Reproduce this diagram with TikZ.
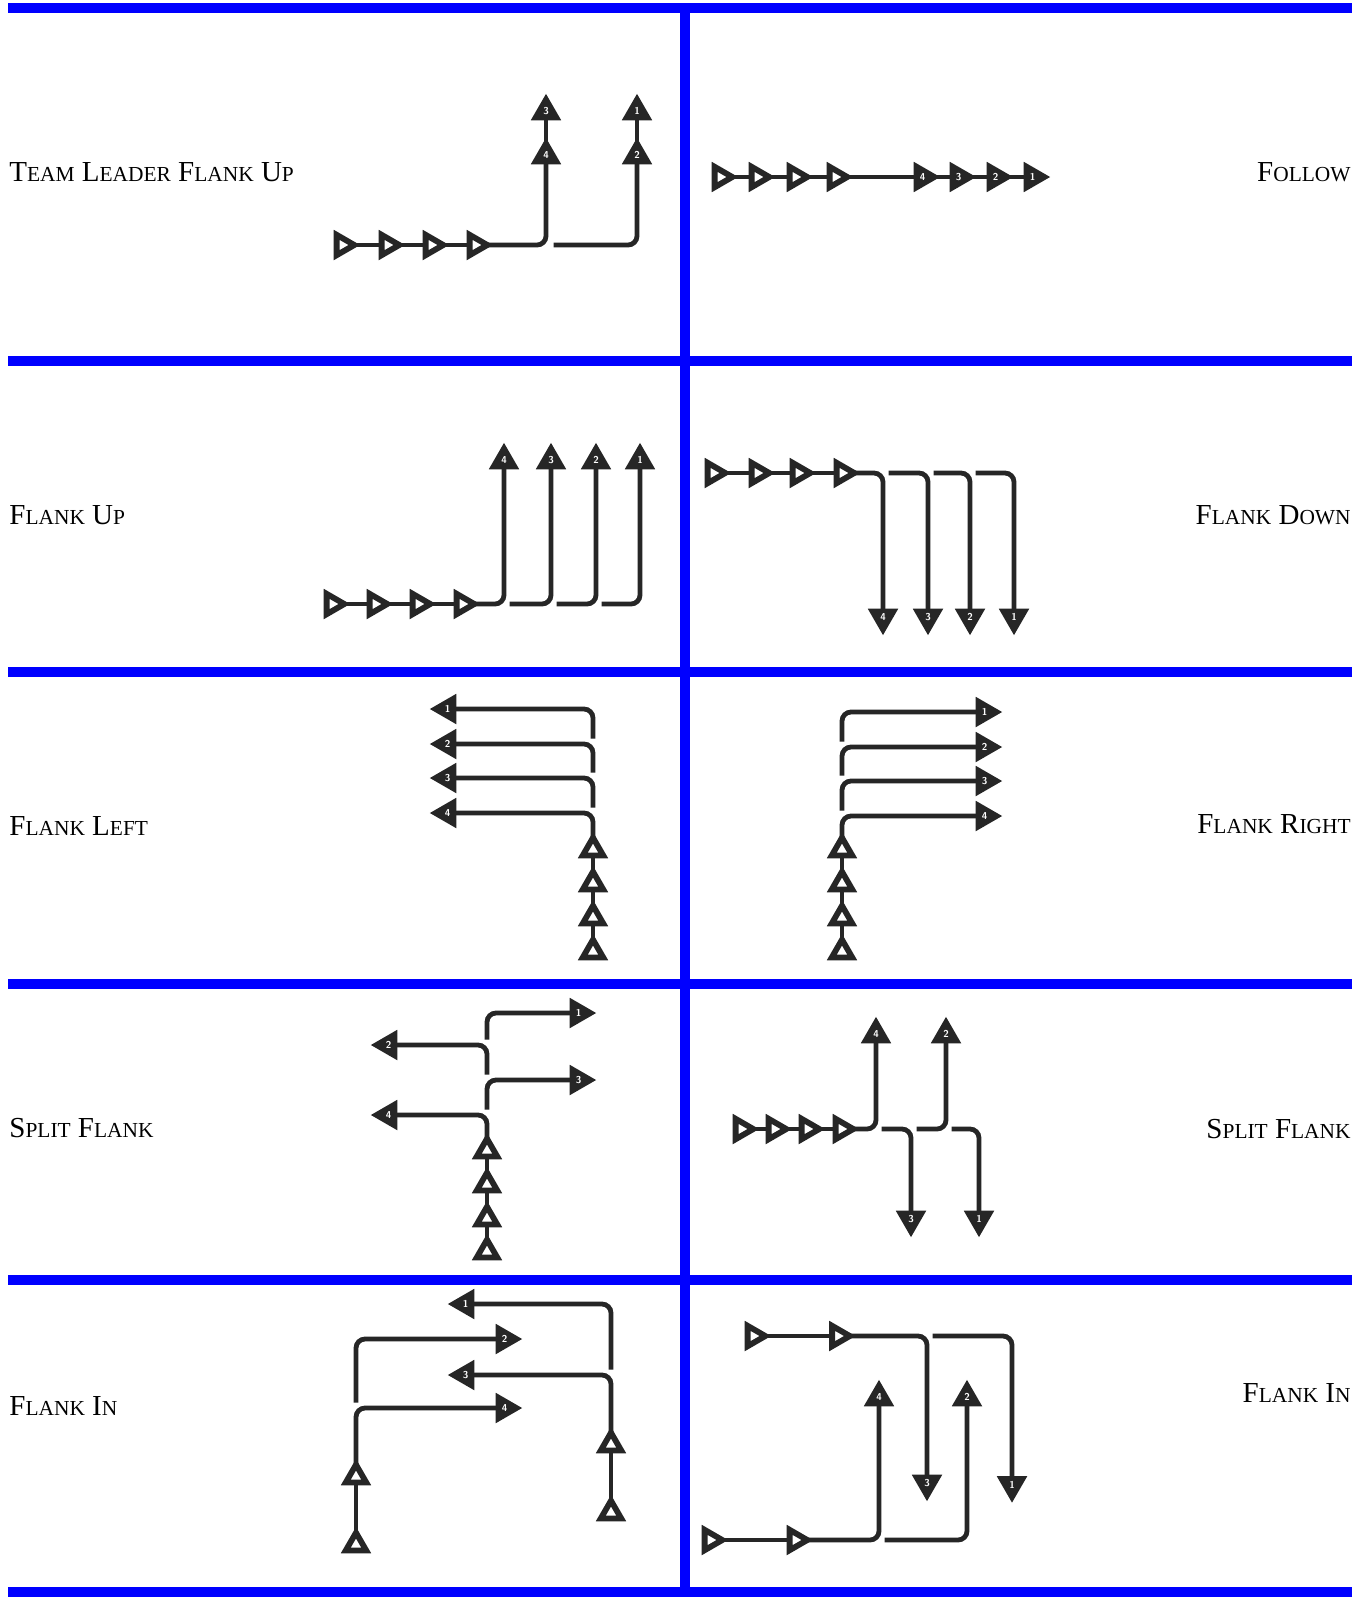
\documentclass[tikz,border=0pt]{standalone}
\usepackage{fontspec}
\setmainfont{Liberation Serif}
\usetikzlibrary{shapes.geometric}
\definecolor{ink}{HTML}{262626}
\definecolor{barblue}{RGB}{0,0,255}
\newcommand\capsz{\fontsize{14.5}{16}\selectfont}
\newcommand\smsz{\fontsize{10.7}{12}\selectfont}
\newcommand\SC[2]{{\capsz #1}{\smsz #2}}
\newcommand\dig[1]{\makebox[0pt]{\raisebox{-1.7pt}[0pt][0pt]{#1}}}
\begin{document}
\begin{tikzpicture}[x=0.5pt,y=-0.5pt,
  tri/.style={regular polygon, regular polygon sides=3, minimum size=11.8pt, inner sep=0pt, outer sep=0pt, draw=ink, line width=2.9pt, fill=white},
  num/.style={tri, fill=ink, text=white, font=\fontsize{5}{5}\selectfont\sffamily\bfseries},
  up/.style={shape border rotate=0},
  dn/.style={shape border rotate=180},
  rt/.style={shape border rotate=-90},
  lf/.style={shape border rotate=90},
  link/.style={draw=ink, line width=2.4pt},
  curvy/.style={link, rounded corners=4.5pt},
  bar/.style={fill=barblue},
  lab/.style={inner sep=0pt, text=black, font=\capsz}
]
\useasboundingbox (0,0) rectangle (1362,1597);
\fill[white] (0,0) rectangle (1362,1597);
% blue grid
\fill[bar] (8,3) rectangle (1352,13);
\fill[bar] (8,356) rectangle (1352,366);
\fill[bar] (8,667) rectangle (1352,677);
\fill[bar] (8,979) rectangle (1352,989);
\fill[bar] (8,1275) rectangle (1352,1285);
\fill[bar] (8,1587) rectangle (1352,1597);
\fill[bar] (680,3) rectangle (690,1597);
% labels
\node[lab, anchor=base west] (l1) at (9,181) {\SC{T}{EAM} \SC{L}{EADER} \SC{F}{LANK} \SC{U}{P}};
\node[lab, anchor=base east] (l2) at (1351,181) {\SC{F}{OLLOW}};
\node[lab, anchor=base west] (l3) at (9,524) {\SC{F}{LANK} \SC{U}{P}};
\node[lab, anchor=base east] (l4) at (1351,524) {\SC{F}{LANK} \SC{D}{OWN}};
\node[lab, anchor=base west] (l5) at (9,835) {\SC{F}{LANK} \SC{L}{EFT}};
\node[lab, anchor=base east] (l6) at (1351,833) {\SC{F}{LANK} \SC{R}{IGHT}};
\node[lab, anchor=base west] (l7) at (9,1137) {\SC{S}{PLIT} \SC{F}{LANK}};
\node[lab, anchor=base east] (l8) at (1351,1138) {\SC{S}{PLIT} \SC{F}{LANK}};
\node[lab, anchor=base west] (l9) at (9,1415) {\SC{F}{LANK} \SC{I}{N}};
\node[lab, anchor=base east] (l10) at (1351,1402) {\SC{F}{LANK} \SC{I}{N}};
% panel 1: team leader flank up
\node[tri,rt] (a1) at (342.5,245) {};
\node[tri,rt] (a2) at (387.5,245) {};
\node[tri,rt] (a3) at (431.5,245) {};
\node[tri,rt] (a4) at (475.5,245) {};
\node[num,up] (a5) at (546,155.5) {\dig{4}};
\node[num,up] (a6) at (546,111.5) {\dig{3}};
\node[num,up] (a7) at (637,155.5) {\dig{2}};
\node[num,up] (a8) at (637,111.5) {\dig{1}};
\coordinate (as) at (553.5,245);
\draw[link] (a1)--(a2) (a2)--(a3) (a3)--(a4) (a5)--(a6) (a7)--(a8);
\draw[curvy] (a4) -| (a5);
\draw[curvy] (as) -| (a7);
% panel 2: follow
\node[tri,rt] (b1) at (720.5,177) {};
\node[tri,rt] (b2) at (757.5,177) {};
\node[tri,rt] (b3) at (795.5,177) {};
\node[tri,rt] (b4) at (835.5,177) {};
\node[num,rt] (b5) at (922.5,177) {\dig{4}};
\node[num,rt] (b6) at (958.5,177) {\dig{3}};
\node[num,rt] (b7) at (995.5,177) {\dig{2}};
\node[num,rt] (b8) at (1032.5,177) {\dig{1}};
\draw[link] (b1)--(b2) (b2)--(b3) (b3)--(b4) (b4)--(b5) (b5)--(b6) (b6)--(b7) (b7)--(b8);
% panel 3: flank up
\node[tri,rt] (c1) at (332.5,604) {};
\node[tri,rt] (c2) at (375.5,604) {};
\node[tri,rt] (c3) at (418.5,604) {};
\node[tri,rt] (c4) at (462.5,604) {};
\node[num,up] (c5) at (504,460.5) {\dig{4}};
\node[num,up] (c6) at (551,460.5) {\dig{3}};
\node[num,up] (c7) at (596,460.5) {\dig{2}};
\node[num,up] (c8) at (640,460.5) {\dig{1}};
\coordinate (cs1) at (509.5,604);
\coordinate (cs2) at (556.5,604);
\coordinate (cs3) at (601.5,604);
\draw[link] (c1)--(c2) (c2)--(c3) (c3)--(c4);
\draw[curvy] (c4) -| (c5);
\draw[curvy] (cs1) -| (c6);
\draw[curvy] (cs2) -| (c7);
\draw[curvy] (cs3) -| (c8);
% panel 4: flank down
\node[tri,rt] (d1) at (713.5,473) {};
\node[tri,rt] (d2) at (757.5,473) {};
\node[tri,rt] (d3) at (798.5,473) {};
\node[tri,rt] (d4) at (842.5,473) {};
\node[num,dn] (d5) at (883,617.5) {\dig{4}};
\node[num,dn] (d6) at (928,617.5) {\dig{3}};
\node[num,dn] (d7) at (970,617.5) {\dig{2}};
\node[num,dn] (d8) at (1014,617.5) {\dig{1}};
\coordinate (ds1) at (888.5,473);
\coordinate (ds2) at (933.5,473);
\coordinate (ds3) at (975.5,473);
\draw[link] (d1)--(d2) (d2)--(d3) (d3)--(d4);
\draw[curvy] (d4) -| (d5);
\draw[curvy] (ds1) -| (d6);
\draw[curvy] (ds2) -| (d7);
\draw[curvy] (ds3) -| (d8);
% panel 5: flank left
\node[tri,up] (e1) at (593,951.5) {};
\node[tri,up] (e2) at (593,917.5) {};
\node[tri,up] (e3) at (593,883.5) {};
\node[tri,up] (e4) at (593,849.5) {};
\node[num,lf] (e5) at (447.5,813) {\dig{4}};
\node[num,lf] (e6) at (447.5,778) {\dig{3}};
\node[num,lf] (e7) at (447.5,744) {\dig{2}};
\node[num,lf] (e8) at (447.5,709) {\dig{1}};
\coordinate (es1) at (593,807.5);
\coordinate (es2) at (593,772.5);
\coordinate (es3) at (593,738.5);
\draw[link] (e1)--(e2) (e2)--(e3) (e3)--(e4);
\draw[curvy] (e4) |- (e5);
\draw[curvy] (es1) |- (e6);
\draw[curvy] (es2) |- (e7);
\draw[curvy] (es3) |- (e8);
% panel 6: flank right
\node[tri,up] (f1) at (842,951.5) {};
\node[tri,up] (f2) at (842,917.5) {};
\node[tri,up] (f3) at (842,883.5) {};
\node[tri,up] (f4) at (842,849.5) {};
\node[num,rt] (f5) at (984.5,816) {\dig{4}};
\node[num,rt] (f6) at (984.5,781) {\dig{3}};
\node[num,rt] (f7) at (984.5,747) {\dig{2}};
\node[num,rt] (f8) at (984.5,712) {\dig{1}};
\coordinate (fs1) at (842,810.5);
\coordinate (fs2) at (842,775.5);
\coordinate (fs3) at (842,741.5);
\draw[link] (f1)--(f2) (f2)--(f3) (f3)--(f4);
\draw[curvy] (f4) |- (f5);
\draw[curvy] (fs1) |- (f6);
\draw[curvy] (fs2) |- (f7);
\draw[curvy] (fs3) |- (f8);
% panel 7: split flank (left)
\node[tri,up] (g1) at (487,1251.5) {};
\node[tri,up] (g2) at (487,1218.5) {};
\node[tri,up] (g3) at (487,1184.5) {};
\node[tri,up] (g4) at (487,1150.5) {};
\node[num,lf] (g5) at (388.5,1115) {\dig{4}};
\node[num,rt] (g6) at (578.5,1080) {\dig{3}};
\node[num,lf] (g7) at (388.5,1045) {\dig{2}};
\node[num,rt] (g8) at (578.5,1013) {\dig{1}};
\coordinate (gs1) at (487,1109.5);
\coordinate (gs2) at (487,1074.5);
\coordinate (gs3) at (487,1039.5);
\draw[link] (g1)--(g2) (g2)--(g3) (g3)--(g4);
\draw[curvy] (g4) |- (g5);
\draw[curvy] (gs1) |- (g6);
\draw[curvy] (gs2) |- (g7);
\draw[curvy] (gs3) |- (g8);
% panel 8: split flank (right)
\node[tri,rt] (h1) at (741.5,1129) {};
\node[tri,rt] (h2) at (774.5,1129) {};
\node[tri,rt] (h3) at (807.5,1129) {};
\node[tri,rt] (h4) at (841.5,1129) {};
\node[num,up] (h5) at (876,1034.5) {\dig{4}};
\node[num,dn] (h6) at (911,1219.5) {\dig{3}};
\node[num,up] (h7) at (946,1034.5) {\dig{2}};
\node[num,dn] (h8) at (979,1219.5) {\dig{1}};
\coordinate (hs1) at (881.5,1129);
\coordinate (hs2) at (916.5,1129);
\coordinate (hs3) at (951.5,1129);
\draw[link] (h1)--(h2) (h2)--(h3) (h3)--(h4);
\draw[curvy] (h4) -| (h5);
\draw[curvy] (hs1) -| (h6);
\draw[curvy] (hs2) -| (h7);
\draw[curvy] (hs3) -| (h8);
% panel 9: flank in (left)
\node[tri,up] (i1) at (356,1544.5) {};
\node[tri,up] (i2) at (356,1476.5) {};
\node[tri,up] (i3) at (611,1512.5) {};
\node[tri,up] (i4) at (611,1444.5) {};
\node[num,rt] (i5) at (504.5,1408) {\dig{4}};
\node[num,lf] (i6) at (465.5,1375) {\dig{3}};
\node[num,rt] (i7) at (504.5,1339) {\dig{2}};
\node[num,lf] (i8) at (465.5,1304) {\dig{1}};
\coordinate (is1) at (356,1402.5);
\coordinate (is2) at (611,1369.5);
\draw[link] (i1)--(i2) (i3)--(i4);
\draw[curvy] (i2) |- (i5);
\draw[curvy] (is1) |- (i7);
\draw[curvy] (i4) |- (i6);
\draw[curvy] (is2) |- (i8);
% panel 10: flank in (right)
\node[tri,rt] (j1) at (753.5,1336) {};
\node[tri,rt] (j2) at (838,1336) {};
\node[tri,rt] (j3) at (710.5,1540) {};
\node[tri,rt] (j4) at (795.5,1540) {};
\node[num,dn] (j5) at (927,1483.5) {\dig{3}};
\node[num,dn] (j6) at (1012,1485) {\dig{1}};
\node[num,up] (j7) at (879,1397.5) {\dig{4}};
\node[num,up] (j8) at (967,1397.5) {\dig{2}};
\coordinate (js1) at (932.5,1336);
\coordinate (js2) at (884.5,1540);
\draw[link] (j1)--(j2) (j3)--(j4);
\draw[curvy] (j2) -| (j5);
\draw[curvy] (js1) -| (j6);
\draw[curvy] (j4) -| (j7);
\draw[curvy] (js2) -| (j8);
\end{tikzpicture}
\end{document}
